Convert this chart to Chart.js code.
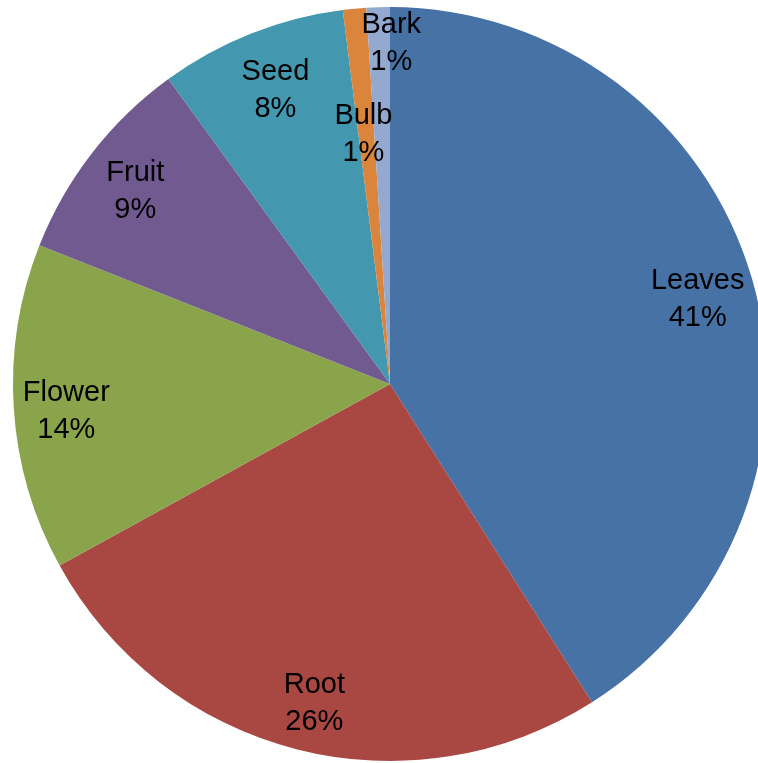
<!DOCTYPE html>
<html>
<head>
<meta charset="utf-8">
<script src="https://cdn.jsdelivr.net/npm/chart.js@4"></script>
<style>
    html, body { margin: 0; padding: 0; background: #fff; overflow: hidden; }
    #wrap { position: absolute; left: 0; top: 0; width: 780px; height: 766px; }
</style>
</head>
<body>
<div id="wrap"><canvas id="pie-chart"></canvas></div>
<script>
const categories = ['Leaves', 'Root', 'Flower', 'Fruit', 'Seed', 'Bulb', 'Bark'];
const shares = [41, 26, 14, 9, 8, 1, 1];
const sliceColors = ['#4672A6', '#A94743', '#8AA44C', '#715A90', '#4397AF', '#DB843C', '#94A9D0'];

// label placement per slice: fraction of radius, then small nudges
const labelRadius = [0.85, 0.86, 0.855, 0.845, 0.84, 0.665, 0.905];
const labelDx = [0, 5, -2, -3, 2, -3, 12];
const labelDy = [5, 5, 7, 3, 1, 0, 1];

const sliceLabels = {
    id: 'sliceLabels',
    afterDatasetsDraw(chart) {
        const ctx = chart.ctx;
        const meta = chart.getDatasetMeta(0);
        const total = shares.reduce((a, b) => a + b, 0);
        ctx.save();
        ctx.font = '29px "Liberation Sans", Arial, Helvetica, sans-serif';
        ctx.fillStyle = '#000';
        ctx.textAlign = 'center';
        ctx.textBaseline = 'middle';
        meta.data.forEach((arc, i) => {
            const mid = (arc.startAngle + arc.endAngle) / 2;
            const r = arc.outerRadius * labelRadius[i];
            const x = arc.x + Math.cos(mid) * r + labelDx[i];
            const y = arc.y + Math.sin(mid) * r + labelDy[i];
            const pct = Math.round(shares[i] / total * 100) + '%';
            ctx.fillText(categories[i], x, y - 18.5);
            ctx.fillText(pct, x, y + 18.5);
        });
        ctx.restore();
    }
};

const ctx = document.getElementById('pie-chart').getContext('2d');
const chart = new Chart(ctx, {
    type: 'pie',
    data: {
        labels: categories,
        datasets: [{
            data: shares,
            backgroundColor: sliceColors,
            borderWidth: 0
        }]
    },
    options: {
        responsive: true,
        maintainAspectRatio: false,
        animation: false,
        events: [],
        layout: {
            padding: { left: 6, right: 6, top: 7, bottom: 5 }
        },
        plugins: {
            legend: { display: false },
            tooltip: { enabled: false }
        }
    },
    plugins: [sliceLabels]
});
</script>
</body>
</html>
